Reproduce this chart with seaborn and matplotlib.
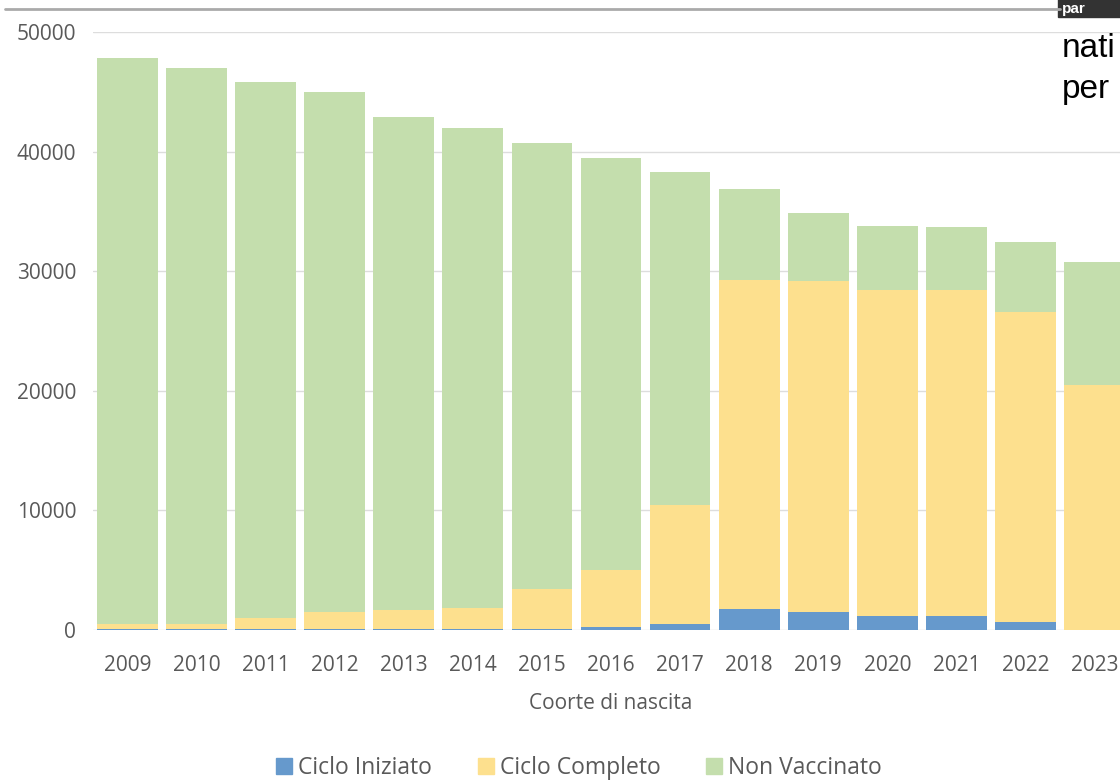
import matplotlib
matplotlib.use("Agg")
import matplotlib.pyplot as plt
import seaborn as sns
import pandas as pd
from matplotlib.lines import Line2D
from matplotlib.patches import Rectangle

# dati
anni = ['2009', '2010', '2011', '2012', '2013', '2014', '2015', '2016',
        '2017', '2018', '2019', '2020', '2021', '2022', '2023']
ciclo_iniziato = [100, 100, 100, 100, 100, 100, 100, 250,
                  500, 1730, 1530, 1170, 1170, 700, 0]
ciclo_completo = [400, 400, 930, 1380, 1570, 1740, 3300, 4770,
                  9950, 27530, 27650, 27260, 27260, 25890, 20480]
non_vaccinato = [47300, 46500, 44770, 43520, 41230, 40160, 37300, 34480,
                 27850, 7640, 5720, 5370, 5270, 5810, 10320]

serie = ['Ciclo Iniziato', 'Ciclo Completo', 'Non Vaccinato']
colori = ['#6699cc', '#fde08e', '#c4dead']

df = pd.DataFrame({'anno': anni,
                   'Ciclo Iniziato': ciclo_iniziato,
                   'Ciclo Completo': ciclo_completo,
                   'Non Vaccinato': non_vaccinato})
# cumulati per lo stack
df['c1'] = df['Ciclo Iniziato']
df['c2'] = df['c1'] + df['Ciclo Completo']
df['c3'] = df['c2'] + df['Non Vaccinato']

sns.set_style('white')
plt.rcParams['font.family'] = ['Open Sans', 'DejaVu Sans']

fig = plt.figure(figsize=(11.2, 7.82), dpi=100)
ax = fig.add_axes([93 / 1120, 1 - 630 / 782, 1036 / 1120, 598 / 782])

for col, c in zip(['c3', 'c2', 'c1'], colori[::-1]):
    sns.barplot(data=df, x='anno', y=col, color=c, width=0.88,
                saturation=1, linewidth=0, ax=ax, zorder=3)

ax.set_xlim(-0.5, 14.5)
ax.set_ylim(0, 50000)
ax.set_yticks(range(0, 50001, 10000))
ax.yaxis.grid(True, color='#dddddd', linewidth=1, zorder=0)
ax.set_axisbelow(True)
for s in ax.spines.values():
    s.set_visible(False)
ax.tick_params(axis='both', length=0, labelsize=15, colors='#595959')
ax.tick_params(axis='y', pad=12)
ax.tick_params(axis='x', pad=18)
ax.set_ylabel('')
ax.set_xlabel('Coorte di nascita', fontsize=15, color='#595959', labelpad=12)

handles = [Rectangle((0, 0), 1, 1, color=c) for c in colori]
fig.legend(handles, serie, loc='center', bbox_to_anchor=(0.517, 1 - 768 / 782),
           ncol=3, frameon=False, fontsize=16.5, handlelength=0.7,
           handleheight=0.7, handletextpad=0.25, columnspacing=2.0,
           labelcolor='#595959')

# elementi della pagina attorno al grafico
fig.add_artist(Line2D([5 / 1120, 1060 / 1120], [1 - 9 / 782, 1 - 9 / 782],
                      color='#aaaaaa', linewidth=2, transform=fig.transFigure))
fig.add_artist(Rectangle((1058 / 1120, 1 - 17 / 782), 70 / 1120, 20 / 782,
                         color='#333333', transform=fig.transFigure))
fig.text(1062 / 1120, 1 - 13 / 782, 'par', color='white', fontsize=11,
         fontweight='bold', family='Liberation Sans', va='baseline')
fig.text(1062 / 1120, 1 - 57 / 782, 'nati', color='black', fontsize=24,
         family='Liberation Sans', va='baseline')
fig.text(1062 / 1120, 1 - 98 / 782, 'per', color='black', fontsize=24,
         family='Liberation Sans', va='baseline')

fig.savefig('out.png', dpi=100)
